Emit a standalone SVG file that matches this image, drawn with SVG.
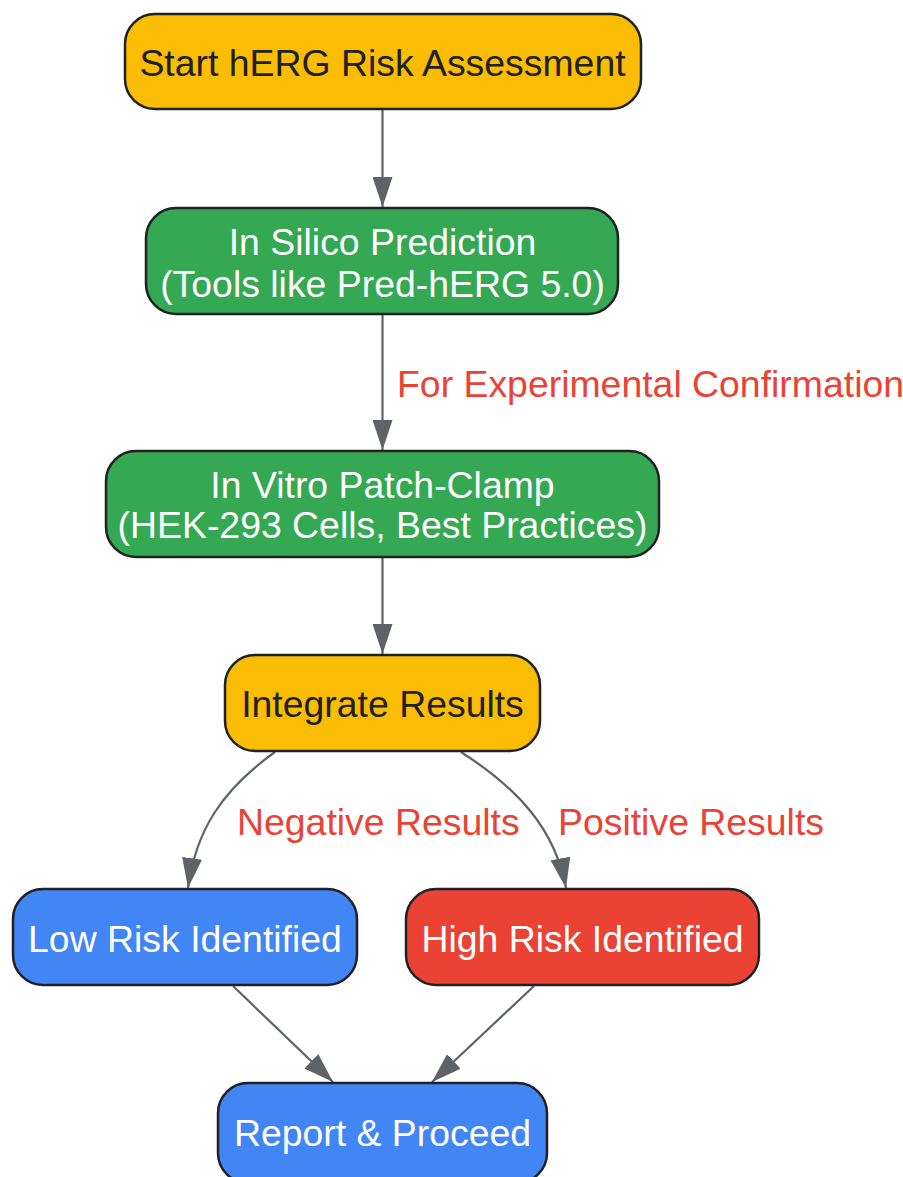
<svg xmlns="http://www.w3.org/2000/svg" width="903" height="1177" viewBox="0 0 903 1177">
<defs>
<style>
.node rect{stroke:#202124;stroke-width:2.5}
.t{font-family:"Liberation Sans",Arial,sans-serif;font-size:37.4px;text-anchor:middle}
.dark{fill:#202124}
.light{fill:#ffffff}
.yellow{fill:#FBBC04}
.green{fill:#34A853}
.blue{fill:#4285F4}
.red{fill:#EA4335}
.edge{fill:none;stroke:#5F6368;stroke-width:2.2;marker-end:url(#arr)}
.lbl{font-family:"Liberation Sans",Arial,sans-serif;font-size:37.4px;fill:#EA4335}
</style>
<marker id="arr" markerUnits="userSpaceOnUse" markerWidth="30" markerHeight="20" refX="30" refY="10" orient="auto">
<path d="M0,0 L30,10 L0,20 z" fill="#5F6368"/>
</marker>
</defs>
<rect width="903" height="1177" fill="#ffffff"/>
<g id="connectors">
<path class="edge" d="M382.5,109 L382.5,207"/>
<path class="edge" d="M382.5,314 L382.5,450"/>
<path class="edge" d="M382.5,557 L382.5,654"/>
<path class="edge" d="M275,752 C222,790 196,830 188,888"/>
<path class="edge" d="M461,752 C520,790 555,830 566,888"/>
<path class="edge" d="M233,986 L333,1082"/>
<path class="edge" d="M534,986 L432,1082"/>
<text class="lbl" x="397" y="397">For Experimental Confirmation</text>
<text class="lbl" x="237" y="835">Negative Results</text>
<text class="lbl" x="558" y="835">Positive Results</text>
</g>
<g id="n1" class="node">
<rect class="yellow" x="125" y="14" width="516" height="95" rx="30"/>
<text class="t dark" x="382.5" y="76">Start hERG Risk Assessment</text>
</g>
<g id="n2" class="node">
<rect class="green" x="146" y="208" width="472" height="106" rx="30"/>
<text class="t light" x="382.5" y="255">In Silico Prediction</text>
<text class="t light" x="382.5" y="297">(Tools like Pred-hERG 5.0)</text>
</g>
<g id="n3" class="node">
<rect class="green" x="106" y="451" width="553" height="106" rx="30"/>
<text class="t light" x="382.5" y="498">In Vitro Patch-Clamp</text>
<text class="t light" x="382.5" y="538">(HEK-293 Cells, Best Practices)</text>
</g>
<g id="n4" class="node">
<rect class="yellow" x="225" y="655" width="315" height="96" rx="30"/>
<text class="t dark" x="382.5" y="717">Integrate Results</text>
</g>
<g id="n5" class="node">
<rect class="blue" x="13" y="889" width="344" height="96" rx="30"/>
<text class="t light" x="185" y="952">Low Risk Identified</text>
</g>
<g id="n6" class="node">
<rect class="red" x="406" y="889" width="353" height="96" rx="30"/>
<text class="t light" x="582.5" y="952">High Risk Identified</text>
</g>
<g id="n7" class="node">
<rect class="blue" x="218" y="1083" width="329" height="100" rx="30"/>
<text class="t light" x="382.5" y="1146">Report &amp; Proceed</text>
</g>
</svg>
